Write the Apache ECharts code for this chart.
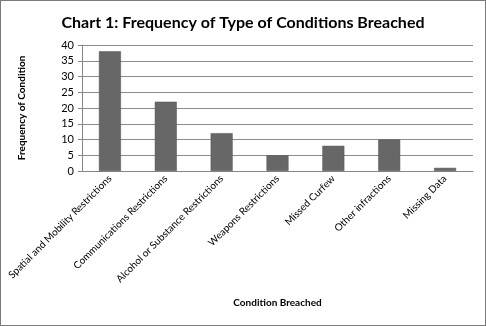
<!DOCTYPE html>
<html>
<head>
<meta charset="utf-8">
<script src="https://cdn.jsdelivr.net/npm/echarts@6/dist/echarts.min.js"></script>
<style>
  html, body { margin: 0; padding: 0; background: #fff; }
  #chart { width: 484px; height: 324px; border: 1px solid #7a7a7a; }
</style>
</head>
<body>
<div id="chart"></div>
<script>
// Condition categories and counts
const categories = [
  'Spatial and Mobility Restrictions',
  'Communications Restrictions',
  'Alcohol or Substance Restrictions',
  'Weapons Restrictions',
  'Missed Curfew',
  'Other infractions',
  'Missing Data'
];
const frequencies = [38, 22, 12, 5, 8, 10, 1];
const yTicks = { min: 0, max: 40, interval: 5 };

const font = 'Lato, "Open Sans", sans-serif';
const chart = echarts.init(document.getElementById('chart'));
chart.setOption({
  animation: false,
  title: {
    text: 'Chart 1: Frequency of Type of Conditions Breached',
    left: 'center',
    top: 9,
    textStyle: { fontFamily: font, fontSize: 16, fontWeight: 'bold', color: '#000' }
  },
  grid: { left: 81, right: 12, top: 44, bottom: 154 },
  xAxis: {
    type: 'category',
    data: categories,
    name: 'Condition Breached',
    nameLocation: 'middle',
    nameGap: 127,
    nameTextStyle: { fontFamily: font, fontSize: 10, fontWeight: 'bold', color: '#000' },
    axisLine: { lineStyle: { color: '#868686' } },
    axisTick: { show: false },
    axisLabel: { rotate: 45, interval: 0, fontFamily: font, fontSize: 10, color: '#000', margin: 6 }
  },
  yAxis: {
    type: 'value',
    min: yTicks.min,
    max: yTicks.max,
    interval: yTicks.interval,
    name: 'Frequency of Condition',
    nameLocation: 'middle',
    nameGap: 55,
    nameTextStyle: { fontFamily: font, fontSize: 10, fontWeight: 'bold', color: '#000' },
    axisLine: { show: true, lineStyle: { color: '#868686' } },
    axisTick: { show: true, length: 4, lineStyle: { color: '#868686' } },
    axisLabel: { fontFamily: font, fontSize: 11, color: '#000', margin: 8 },
    splitLine: { lineStyle: { color: '#8c8c8c' } }
  },
  series: [{
    type: 'bar',
    data: frequencies,
    barWidth: 22,
    itemStyle: { color: '#676767', borderColor: '#555', borderWidth: 0.5 }
  }]
});
</script>
</body>
</html>
